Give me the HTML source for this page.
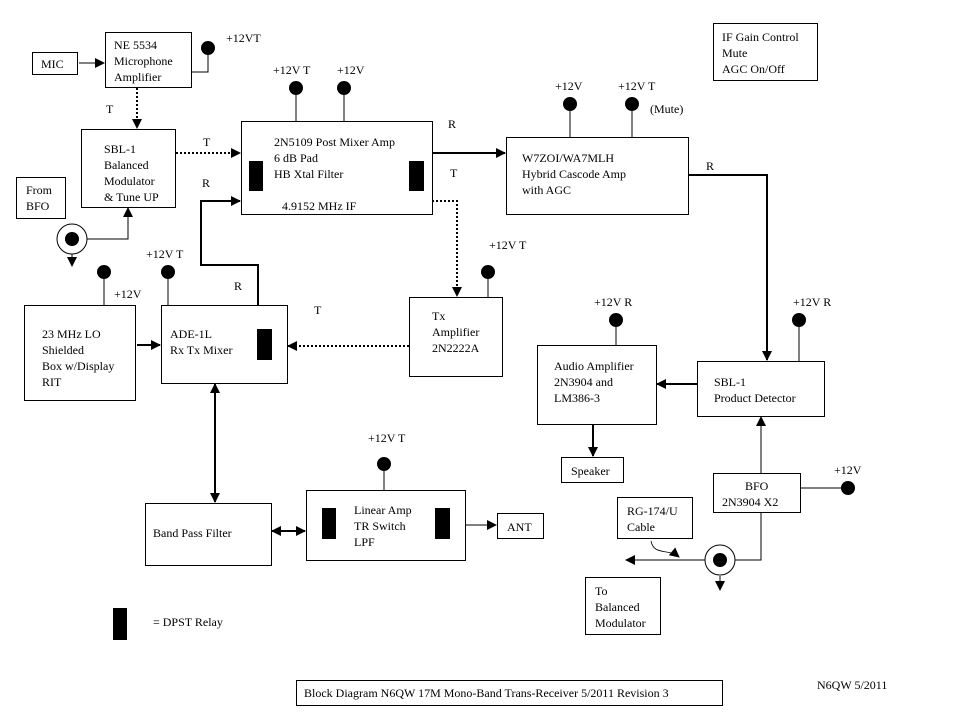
<!DOCTYPE html>
<html><head><meta charset="utf-8"><style>
html,body{margin:0;padding:0;background:#fff}
svg{display:block}
text{font-family:"Liberation Serif",serif;font-size:12px;fill:#000}
.b{fill:#fff;stroke:#000;stroke-width:1}
</style></head><body>
<svg width="959" height="719" viewBox="0 0 959 719" xmlns="http://www.w3.org/2000/svg">
<defs>
<marker id="a" markerWidth="10" markerHeight="10" refX="9" refY="5" orient="auto" markerUnits="userSpaceOnUse"><path d="M0,0 L10,5 L0,10 z" fill="#000"/></marker>
<marker id="s" markerWidth="10" markerHeight="10" refX="1" refY="5" orient="auto" markerUnits="userSpaceOnUse"><path d="M10,0 L0,5 L10,10 z" fill="#000"/></marker>
</defs>
<g stroke="#000" fill="none">
<!-- boxes -->
<rect class="b" x="32.5" y="52.5" width="45" height="22"/>
<rect class="b" x="105.5" y="32.5" width="86" height="55"/>
<rect class="b" x="81.5" y="129.5" width="94" height="78"/>
<rect class="b" x="16.5" y="177.5" width="49" height="41"/>
<rect class="b" x="241.5" y="121.5" width="191" height="93"/>
<rect class="b" x="506.5" y="137.5" width="182" height="77"/>
<rect class="b" x="24.5" y="305.5" width="111" height="95"/>
<rect class="b" x="161.5" y="305.5" width="126" height="78"/>
<rect class="b" x="409.5" y="297.5" width="93" height="79"/>
<rect class="b" x="537.5" y="345.5" width="119" height="79"/>
<rect class="b" x="697.5" y="361.5" width="127" height="55"/>
<rect class="b" x="561.5" y="457.5" width="62" height="25"/>
<rect class="b" x="713.5" y="473.5" width="87" height="39"/>
<rect class="b" x="617.5" y="497.5" width="75" height="41"/>
<rect class="b" x="585.5" y="577.5" width="75" height="57"/>
<rect class="b" x="145.5" y="503.5" width="126" height="62"/>
<rect class="b" x="306.5" y="490.5" width="159" height="70"/>
<rect class="b" x="497.5" y="513.5" width="46" height="25"/>
<rect class="b" x="713.5" y="23.5" width="104" height="57"/>
<rect class="b" x="296.5" y="680.5" width="426" height="25"/>
<!-- power lines -->
<path d="M191,72H208V52M296,88V121M344,88V121M570,104V137M632,104V137M104,272V305M168,272V305M488,272V297M616,320V345M799,320V361M384,464V490M800,488H848"/>
</g>
<g fill="#000">
<rect x="249" y="161" width="14" height="30"/><rect x="409" y="161" width="15" height="30"/>
<rect x="257" y="329" width="15" height="31"/>
<rect x="322" y="508" width="14" height="31"/><rect x="435" y="508" width="15" height="31"/>
<rect x="113" y="608" width="14" height="32"/>
<circle cx="208" cy="48" r="7"/><circle cx="296" cy="88" r="7"/><circle cx="344" cy="88" r="7"/>
<circle cx="570" cy="104" r="7"/><circle cx="632" cy="104" r="7"/>
<circle cx="104" cy="272" r="7"/><circle cx="168" cy="272" r="7"/><circle cx="488" cy="272" r="7"/>
<circle cx="616" cy="320" r="7"/><circle cx="799" cy="320" r="7"/><circle cx="384" cy="464" r="7"/>
<circle cx="848" cy="488" r="7"/>
<circle cx="72" cy="239" r="7"/><circle cx="720" cy="560" r="7"/>
</g>
<g stroke="#000" fill="none">
<circle cx="72" cy="239" r="15"/><circle cx="720" cy="560" r="15"/>
<!-- connectors -->
<path d="M79,63H104" marker-end="url(#a)"/>
<path d="M137,88V128" stroke-width="2" stroke-dasharray="2,2" marker-end="url(#a)"/>
<path d="M176,153H240" stroke-width="2" stroke-dasharray="2,2" marker-end="url(#a)"/>
<path d="M258,305V265H201V201H240" stroke-width="2" marker-end="url(#a)"/>
<path d="M87,239H128V208" marker-end="url(#a)"/>
<path d="M72,254V266" marker-end="url(#a)"/>
<path d="M432,153H505" stroke-width="2" marker-end="url(#a)"/>
<path d="M432,201H457V296" stroke-width="2" stroke-dasharray="2,2" marker-end="url(#a)"/>
<path d="M688,175H767V360" stroke-width="2" marker-end="url(#a)"/>
<path d="M409,346H288" stroke-width="2" stroke-dasharray="2,2" marker-end="url(#a)"/>
<path d="M137,345H160" stroke-width="2" marker-end="url(#a)"/>
<path d="M215,384V502" stroke-width="2" marker-start="url(#s)" marker-end="url(#a)"/>
<path d="M272,531H305" stroke-width="2" marker-start="url(#s)" marker-end="url(#a)"/>
<path d="M466,525H496" marker-end="url(#a)"/>
<path d="M697,384H657" stroke-width="2" marker-end="url(#a)"/>
<path d="M593,424V456" stroke-width="2" marker-end="url(#a)"/>
<path d="M761,473V417" marker-end="url(#a)"/>
<path d="M735,560H761V512"/>
<path d="M705,560H626" marker-end="url(#a)"/>
<path d="M720,576V590" marker-end="url(#a)"/>
<path d="M651,541C654,556 668,548 679,557" stroke-width="0.8" marker-end="url(#a)"/>
</g>
<!-- text -->
<text x="41" y="68">MIC</text>
<text x="114" y="49">NE 5534</text><text x="114" y="65">Microphone</text><text x="114" y="81">Amplifier</text>
<text x="226" y="42">+12VT</text>
<text x="104" y="153">SBL-1</text><text x="104" y="169">Balanced</text><text x="104" y="185">Modulator</text><text x="104" y="201">&amp; Tune UP</text>
<text x="26" y="194">From</text><text x="26" y="210">BFO</text>
<text x="106" y="113">T</text><text x="203" y="146">T</text><text x="202" y="187">R</text>
<text x="273" y="74">+12V T</text><text x="337" y="74">+12V</text>
<text x="274" y="146">2N5109 Post Mixer Amp</text><text x="274" y="162">6 dB Pad</text><text x="274" y="178">HB Xtal Filter</text>
<text x="282" y="210">4.9152 MHz IF</text>
<text x="448" y="128">R</text><text x="450" y="177">T</text>
<text x="555" y="90">+12V</text><text x="618" y="90">+12V T</text><text x="650" y="113">(Mute)</text>
<text x="522" y="162">W7ZOI/WA7MLH</text><text x="522" y="178">Hybrid Cascode Amp</text><text x="522" y="194">with AGC</text>
<text x="706" y="170">R</text>
<text x="722" y="41">IF Gain Control</text><text x="722" y="57">Mute</text><text x="722" y="73">AGC On/Off</text>
<text x="146" y="258">+12V T</text><text x="114" y="298">+12V</text><text x="234" y="290">R</text><text x="314" y="314">T</text>
<text x="489" y="249">+12V T</text>
<text x="42" y="338">23 MHz LO</text><text x="42" y="354">Shielded</text><text x="42" y="370">Box w/Display</text><text x="42" y="386">RIT</text>
<text x="170" y="338">ADE-1L</text><text x="170" y="354">Rx Tx Mixer</text>
<text x="432" y="320">Tx</text><text x="432" y="336">Amplifier</text><text x="432" y="352">2N2222A</text>
<text x="594" y="306">+12V R</text><text x="793" y="306">+12V R</text>
<text x="554" y="370">Audio Amplifier</text><text x="554" y="386">2N3904 and</text><text x="554" y="402">LM386-3</text>
<text x="714" y="386">SBL-1</text><text x="714" y="402">Product Detector</text>
<text x="571" y="475">Speaker</text>
<text x="745" y="490">BFO</text><text x="722" y="506">2N3904 X2</text>
<text x="834" y="474">+12V</text>
<text x="627" y="515">RG-174/U</text><text x="627" y="531">Cable</text>
<text x="595" y="595">To</text><text x="595" y="611">Balanced</text><text x="595" y="627">Modulator</text>
<text x="368" y="442">+12V T</text>
<text x="354" y="514">Linear Amp</text><text x="354" y="530">TR Switch</text><text x="354" y="546">LPF</text>
<text x="507" y="531">ANT</text>
<text x="153" y="537">Band Pass Filter</text>
<text x="153" y="626">= DPST Relay</text>
<text x="304" y="697">Block Diagram N6QW 17M Mono-Band Trans-Receiver 5/2011 Revision 3</text>
<text x="817" y="689">N6QW 5/2011</text>
</svg>
</body></html>
